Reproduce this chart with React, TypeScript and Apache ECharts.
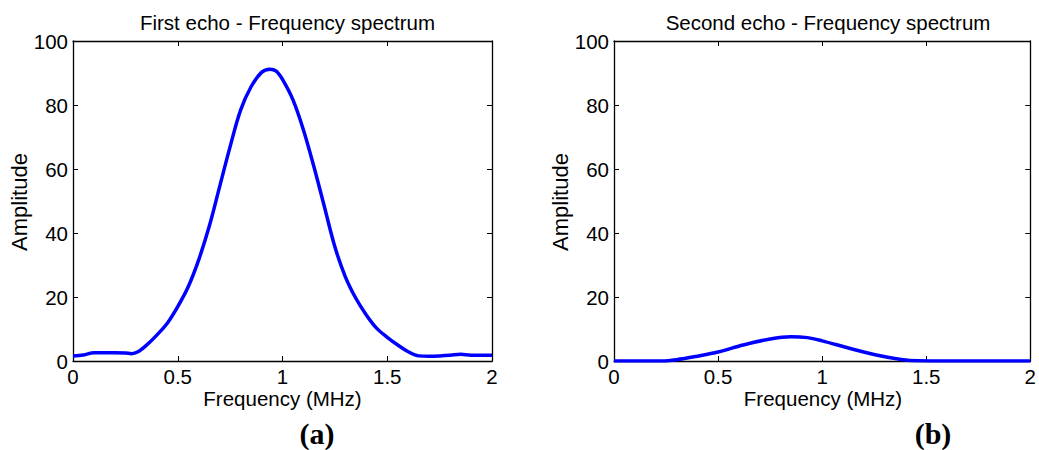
import React, { useEffect, useRef } from "react";
import * as echarts from "echarts";

// Frequency samples (MHz) and spectral amplitude of the first echo
const freq1 = [0, 0.05, 0.1, 0.15, 0.2, 0.25, 0.28, 0.31, 0.35, 0.4, 0.45, 0.5, 0.55, 0.6, 0.65, 0.7, 0.75, 0.8, 0.85, 0.9, 0.94, 0.97, 1.0, 1.05, 1.1, 1.15, 1.2, 1.25, 1.3, 1.35, 1.4, 1.45, 1.5, 1.55, 1.6, 1.65, 1.7, 1.75, 1.8, 1.85, 1.9, 1.95, 2.0];
const amp1 = [1.6, 1.9, 2.6, 2.6, 2.6, 2.5, 2.3, 2.9, 4.9, 8.1, 11.8, 17.0, 23.2, 31.6, 42.0, 54.5, 67.0, 78.4, 85.7, 90.2, 91.2, 90.6, 88.0, 81.6, 72.2, 60.7, 48.2, 35.7, 26.3, 19.6, 14.4, 10.2, 7.4, 5.0, 2.9, 1.6, 1.5, 1.6, 1.8, 2.1, 1.8, 1.8, 1.8];

// Frequency samples (MHz) and spectral amplitude of the second echo
const freq2 = [0, 0.1, 0.2, 0.23, 0.3, 0.4, 0.5, 0.62, 0.75, 0.85, 0.93, 1.0, 1.13, 1.26, 1.38, 1.46, 1.55, 1.7, 1.85, 2.0];
const amp2 = [0, 0, 0, 0, 0.4, 1.5, 2.8, 5.0, 6.9, 7.6, 7.3, 6.3, 4.0, 1.9, 0.5, 0.05, 0, 0, 0, 0];

const xTicks = [0, 0.5, 1, 1.5, 2];
const yTicks = [0, 20, 40, 60, 80, 100];

const panelTitles = ["First echo - Frequency spectrum", "Second echo - Frequency spectrum"];
const panelLetters = ["(a)", "(b)"];
const xName = "Frequency (MHz)";
const yName = "Amplitude";

const FONT = "Arial, 'Liberation Sans', Helvetica, sans-serif";

export default function App() {
  const ref = useRef<HTMLDivElement>(null);

  useEffect(() => {
    document.body.style.margin = "0";
    if (!ref.current) return;
    const chart = echarts.init(ref.current, null, { renderer: "svg" });

    const grids = [
      { left: 73, top: 41, width: 419, height: 320 },
      { left: 614, top: 41, width: 418, height: 320 },
    ];

    const tick = { show: true, inside: true, length: 5, lineStyle: { color: "#000", width: 1 } };
    const line = { show: true, onZero: false, lineStyle: { color: "#000", width: 1.3 } };

    const xAxes: any[] = [];
    const yAxes: any[] = [];
    grids.forEach((_, i) => {
      xAxes.push({
        type: "value",
        gridIndex: i,
        min: 0,
        max: 2,
        interval: 0.5,
        position: "bottom",
        axisLine: line,
        axisTick: tick,
        splitLine: { show: false },
        axisLabel: {
          color: "#000",
          fontFamily: FONT,
          fontSize: 20.5,
          margin: 5,
          formatter: (v: number) => (xTicks.includes(v) ? String(v) : ""),
        },
      });
      xAxes.push({
        type: "value",
        gridIndex: i,
        min: 0,
        max: 2,
        interval: 0.5,
        position: "top",
        axisLine: line,
        axisTick: tick,
        splitLine: { show: false },
        axisLabel: { show: false },
      });
      yAxes.push({
        type: "value",
        gridIndex: i,
        min: 0,
        max: 100,
        interval: 20,
        position: "left",
        axisLine: line,
        axisTick: tick,
        splitLine: { show: false },
        axisLabel: {
          color: "#000",
          fontFamily: FONT,
          fontSize: 20.5,
          margin: 5,
          formatter: (v: number) => (yTicks.includes(v) ? String(v) : ""),
        },
      });
      yAxes.push({
        type: "value",
        gridIndex: i,
        min: 0,
        max: 100,
        interval: 20,
        position: "right",
        axisLine: line,
        axisTick: tick,
        splitLine: { show: false },
        axisLabel: { show: false },
      });
    });

    const titles = grids.map((g, i) => ({
      text: panelTitles[i],
      left: g.left + g.width / 2,
      top: 7,
      textAlign: "center",
      textStyle: { color: "#000", fontFamily: FONT, fontSize: 20.5, fontWeight: "normal" },
    }));

    const graphics: any[] = [];
    grids.forEach((g, i) => {
      graphics.push({
        type: "text",
        x: g.left + g.width / 2,
        y: 398,
        style: {
          text: xName,
          fill: "#000",
          font: `20.5px ${FONT}`,
          textAlign: "center",
          textVerticalAlign: "middle",
        },
      });
      graphics.push({
        type: "text",
        x: i === 0 ? 19 : 560,
        y: 202,
        rotation: Math.PI / 2,
        style: {
          text: yName,
          fill: "#000",
          font: `22px ${FONT}`,
          textAlign: "center",
          textVerticalAlign: "middle",
        },
      });
      graphics.push({
        type: "text",
        x: i === 0 ? 317 : 933,
        y: 433,
        style: {
          text: panelLetters[i],
          fill: "#000",
          font: `bold 30px 'Liberation Serif', 'Times New Roman', serif`,
          textAlign: "center",
          textVerticalAlign: "middle",
        },
      });
    });

    const mk = (xs: number[], ys: number[]) => xs.map((x, k) => [x, ys[k]]);

    chart.setOption({
      animation: false,
      backgroundColor: "#fff",
      title: titles,
      grid: grids,
      xAxis: xAxes,
      yAxis: yAxes,
      graphic: graphics,
      series: [
        {
          type: "line",
          xAxisIndex: 0,
          yAxisIndex: 0,
          data: mk(freq1, amp1),
          smooth: 0.35,
          showSymbol: false,
          lineStyle: { color: "#0000ff", width: 3.5 },
        },
        {
          type: "line",
          xAxisIndex: 2,
          yAxisIndex: 2,
          data: mk(freq2, amp2),
          smooth: 0.35,
          showSymbol: false,
          lineStyle: { color: "#0000ff", width: 3.5 },
        },
      ],
    });

    return () => chart.dispose();
  }, []);

  return <div ref={ref} style={{ width: 1039, height: 450 }} />;
}
